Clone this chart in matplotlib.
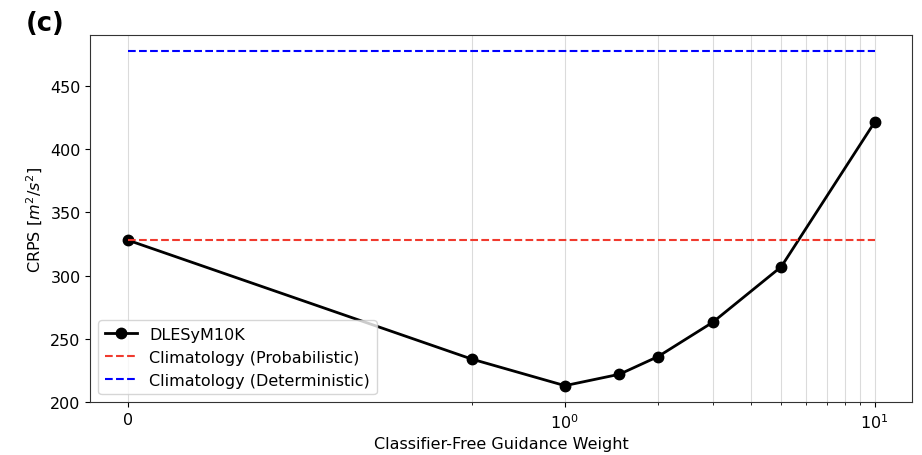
import numpy as np
import matplotlib
matplotlib.use('Agg')
import matplotlib.pyplot as plt

plt.rcParams['font.size'] = 11.5

# guidance weights and CRPS values
cfg_weights = [0, 0.5, 1, 1.5, 2, 3, 5, 10]
crps_values = [328, 234, 213, 222, 236, 263, 307, 421]
clim_prob = 328
clim_det = 477

fig, ax = plt.subplots(figsize=(9.22, 4.56), dpi=100)
fig.subplots_adjust(left=0.098, right=0.989, top=0.921, bottom=0.116)

ax.plot(cfg_weights, crps_values, 'k-o', lw=2, ms=7.5, label='DLESyM10K')
ax.plot([cfg_weights[0], cfg_weights[-1]], [clim_prob, clim_prob], '--',
        color='#f03a2e', lw=1.5, label='Climatology (Probabilistic)')
ax.plot([cfg_weights[0], cfg_weights[-1]], [clim_det, clim_det], '--',
        color='#0000ff', lw=1.5, label='Climatology (Deterministic)')

ax.set_xscale('symlog', linthresh=0.5)
ax.set_xticks([0, 1, 10])
ax.set_xticklabels(['0', '$10^{0}$', '$10^{1}$'])
ax.set_xticks([0.5, 2, 3, 4, 5, 6, 7, 8, 9], minor=True)
ax.grid(True, axis='x', which='both', color='#cccccc', alpha=0.7, lw=0.8)
ax.set_ylim(200, 490)
ax.set_yticks([200, 250, 300, 350, 400, 450])
for s in ax.spines.values():
    s.set_color('#333333')

ax.set_xlabel('Classifier-Free Guidance Weight')
ax.set_ylabel('CRPS [$m^2/s^2$]')
ax.legend(loc='lower left')

fig.text(0.028, 0.932, '(c)', fontsize=18.5, fontweight='bold')

fig.savefig('out.png', dpi=100)
